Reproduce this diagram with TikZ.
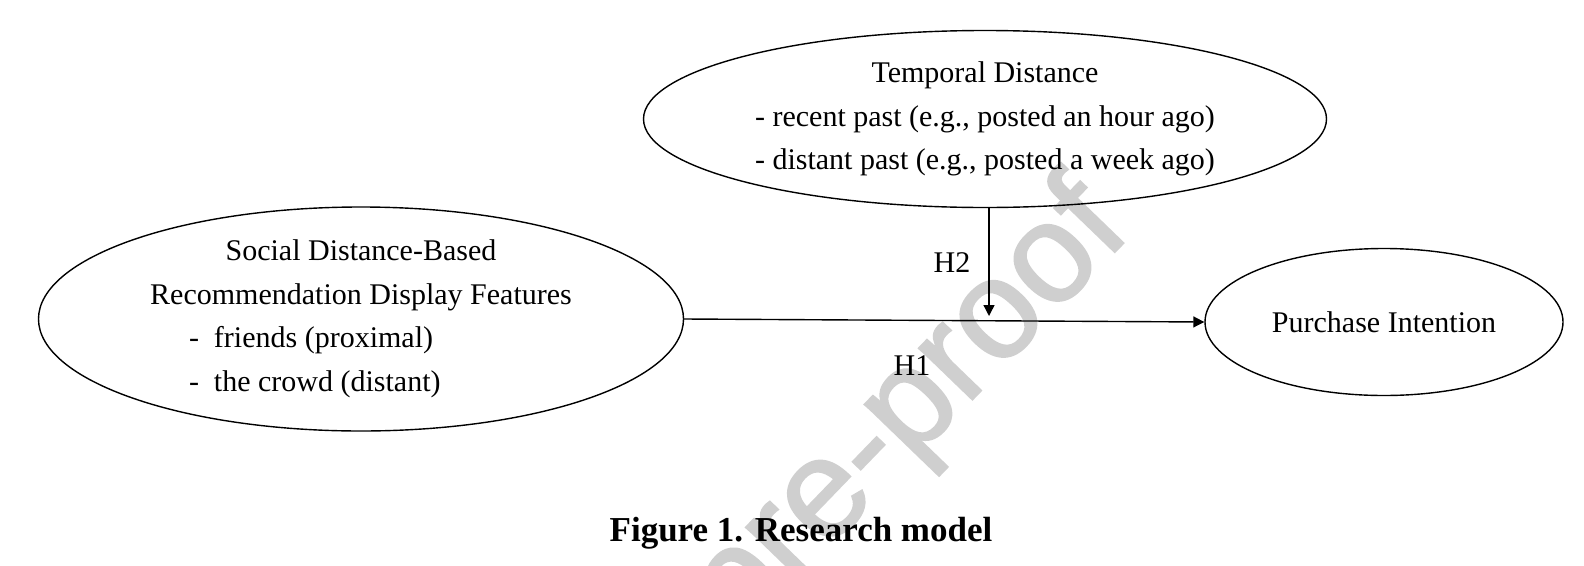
\documentclass[tikz,border=0pt]{standalone}
\usepackage{fontspec}
\setmainfont{Liberation Serif}
\newfontfamily\wmfont[FakeBold=1.5]{Liberation Sans}
\usetikzlibrary{arrows.meta,positioning,shapes.geometric}
\tikzset{
  construct/.style={ellipse, draw=black, line width=1.4pt, inner sep=-8pt, align=center, font=\fontsize{30}{43.5}\selectfont},
  patharrow/.style={-{Triangle[length=11pt,width=11pt]}, line width=1.4pt},
  hyp/.style={inner sep=0pt, font=\fontsize{30}{36}\selectfont},
  watermarktext/.style={rotate=46, text=gray!38, inner sep=0pt, font=\wmfont\fontsize{140}{140}\selectfont}
}
\begin{document}
\begin{tikzpicture}[x=1pt,y=-1pt]
\useasboundingbox (0,0) rectangle (1584,565);
\node[watermarktext] (watermark) at (910,412) {pre-proof};
% constructs
\node[construct, minimum width=683pt, minimum height=177pt] (temporal) at (985,119) {Temporal Distance\\- recent past (e.g., posted an hour ago)\\- distant past (e.g., posted a week ago)};
\node[construct, minimum width=645pt, minimum height=224pt] (social) at (361,319) {Social Distance-Based\\Recommendation Display Features\\\makebox[428pt][l]{\hspace{42pt}-\hspace{15pt}friends (proximal)}\\\makebox[428pt][l]{\hspace{42pt}-\hspace{15pt}the crowd (distant)}};
\node[construct, minimum width=358pt, minimum height=147pt] (purchase) at (1384,322) {Purchase Intention};
% paths
\coordinate (modpoint) at (989,316);
\draw[patharrow] (social.east) -- (purchase.west);
\draw[patharrow] (temporal.south -| modpoint) -- (modpoint);
\node[hyp] (h2) at (952,263) {H2};
\node[hyp] (h1) at (912,366) {H1};
\node[inner sep=0pt, font=\bfseries\fontsize{35}{40}\selectfont] (caption) at (801,533) {Figure 1. Research model};
\end{tikzpicture}
\end{document}
